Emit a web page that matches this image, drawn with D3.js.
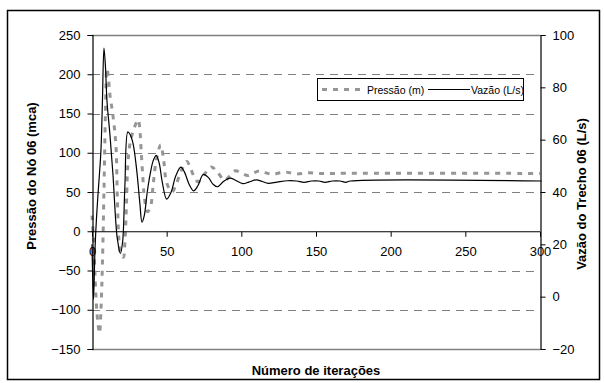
<!DOCTYPE html>
<html>
<head>
<meta charset="utf-8">
<script src="https://cdn.jsdelivr.net/npm/d3@7"></script>
<style>
	body { margin: 0; background: #fff; }
	svg { display: block; font-family: "Liberation Sans", Arial, sans-serif; }
	.tick text { font-size: 13px; fill: #000; }
	.axis-title { font-size: 13px; font-weight: bold; }
	.legend-label { font-size: 10.5px; }
</style>
</head>
<body>
<svg id="chart" width="604" height="383"></svg>
<script>
(function () {
	// DATA
	var xTicks = [0, 50, 100, 150, 200, 250, 300];
	var leftTicks = [-150, -100, -50, 0, 50, 100, 150, 200, 250];
	var rightTicks = [-20, 0, 20, 40, 60, 80, 100];
	var gridValues = [-100, -50, 50, 100, 150, 200];

	var pressaoIter = [0, 1, 2, 3, 4, 5, 6, 7, 8, 9, 10, 11, 12, 14, 16, 17, 18, 19, 21, 22, 23, 24, 25.5, 28, 31, 32, 33, 34, 35, 37, 39, 41, 43, 46, 48, 50, 53.5, 56, 60, 63.5, 66, 69, 71, 75, 80, 84, 89, 92, 96, 100, 104.5, 108, 112.5, 117, 121, 126, 131, 137, 145, 152, 160, 300];
	var pressaoVal = [20, -10, -55, -95, -118, -130, -100, -40, 50, 150, 207, 195, 174, 148, 110, 40, -10, -28, -33, -15, 30, 85, 112, 130, 142, 130, 100, 70, 45, 25, 30, 60, 90, 110, 90, 62, 50, 58, 78, 89, 80, 67, 63, 72, 82, 75, 65, 70, 77, 74, 71, 74, 77, 74, 72.5, 74.5, 75, 73, 74.5, 73.5, 73.7, 73.7];

	var vazaoIter = [0, 1, 2, 3, 4, 5, 6, 7, 8, 9, 10, 12, 14, 16, 17, 19, 20.5, 22, 24, 25.5, 27.5, 30, 32, 33.5, 35, 37, 39, 41, 43, 45, 47, 50, 53, 56, 59.5, 62, 65, 68, 71, 74.5, 78, 81, 84, 88, 92.5, 96, 101, 105, 110, 114, 118, 124, 131, 137, 142, 147, 152, 156, 161, 166, 170, 173, 301];
	var vazaoVal = [20, -1, 18, 30, 39, 47, 56, 75, 95, 88, 75, 62, 47, 28, 22, 16.5, 21, 42, 63, 62, 58.5, 48, 36, 28.5, 31, 40, 47, 52, 54, 51, 44, 37.3, 40, 46, 49.5, 47.5, 43, 40.4, 42.5, 46.7, 45.5, 43, 42, 44, 45.3, 44.5, 43.2, 43.8, 44.6, 44, 43.3, 43.8, 44.3, 44.2, 43.7, 44.2, 44.2, 43.7, 44.2, 44.2, 43.7, 44.2, 44.2];

	var legend = ["Pressão (m)", "Vazão (L/s)"];

	// SCALES
	var svg = d3.select("#chart");
	var x = d3.scaleLinear().domain([0, 300]).range([92, 540]);
	var yL = d3.scaleLinear().domain([-150, 250]).range([349, 35]);
	var yR = d3.scaleLinear().domain([-20, 100]).range([349, 35]);

	// outer frame
	svg.append("rect")
		.attr("x", 7.5).attr("y", 10.5)
		.attr("width", 592).attr("height", 369)
		.attr("fill", "none").attr("stroke", "#000").attr("stroke-width", 1.5);

	// plot area border top / bottom
	svg.selectAll("line.border")
		.data([250, -150]).enter().append("line")
		.attr("class", "border")
		.attr("x1", x(0)).attr("x2", x(300))
		.attr("y1", function (d) { return yL(d) + 0.5 })
		.attr("y2", function (d) { return yL(d) + 0.5 })
		.attr("stroke", "#808080").attr("stroke-width", 1.5);

	// gridlines
	svg.selectAll("line.grid")
		.data(gridValues).enter().append("line")
		.attr("class", "grid")
		.attr("x1", x(0)).attr("x2", x(300))
		.attr("y1", function (d) { return Math.round(yL(d)) + 0.5 })
		.attr("y2", function (d) { return Math.round(yL(d)) + 0.5 })
		.attr("stroke", "#808080").attr("stroke-width", 1)
		.attr("stroke-dasharray", "8,6");

	// LINES
	var pressaoLine = d3.line()
		.x(function (d, i) { return x(pressaoIter[i]) })
		.y(function (d) { return yL(d) })
		.curve(d3.curveCatmullRom.alpha(0.5));
	var vazaoLine = d3.line()
		.x(function (d, i) { return x(vazaoIter[i]) })
		.y(function (d) { return yR(d) })
		.curve(d3.curveCatmullRom.alpha(0.5));

	svg.append("path")
		.attr("d", pressaoLine(pressaoVal))
		.attr("fill", "none").attr("stroke", "#969696")
		.attr("stroke-width", 3).attr("stroke-dasharray", "5,6");
	svg.append("path")
		.attr("d", vazaoLine(vazaoVal))
		.attr("fill", "none").attr("stroke", "#000")
		.attr("stroke-width", 1.2);

	// AXES
	var gx = svg.append("g")
		.attr("transform", "translate(0," + (yL(0) + 0.5) + ")")
		.call(d3.axisBottom(x).tickValues(xTicks).tickSize(5).tickPadding(10));
	var gl = svg.append("g")
		.attr("transform", "translate(" + (x(0) + 0.5) + ",0)")
		.call(d3.axisLeft(yL).tickValues(leftTicks).tickSize(5).tickPadding(7));
	var gr = svg.append("g")
		.attr("transform", "translate(" + (x(300) + 0.5) + ",0)")
		.call(d3.axisRight(yR).tickValues(rightTicks).tickSize(5).tickPadding(7));
	[gx, gl, gr].forEach(function (g) {
		g.selectAll(".domain").attr("stroke", "#000").attr("stroke-width", 1.2);
		g.selectAll(".tick line").attr("stroke", "#000");
		g.attr("font-size", null).attr("font-family", null);
	});
	gx.selectAll(".domain").attr("d", "M" + (x(0) - 0.5) + ",0H" + x(300));

	// AXIS TITLES
	svg.append("text").attr("class", "axis-title")
		.attr("transform", "translate(36,176) rotate(-90)")
		.attr("text-anchor", "middle").text("Pressão do Nó 06 (mca)");
	svg.append("text").attr("class", "axis-title")
		.attr("transform", "translate(586,194) rotate(-90)")
		.attr("text-anchor", "middle").text("Vazão do Trecho 06 (L/s)");
	svg.append("text").attr("class", "axis-title")
		.attr("x", 316).attr("y", 375)
		.attr("text-anchor", "middle").text("Número de iterações");

	// LEGEND
	var lg = svg.append("g").attr("class", "legend");
	lg.append("rect")
		.attr("x", 317.5).attr("y", 78.5).attr("width", 206).attr("height", 22)
		.attr("fill", "#fff").attr("stroke", "#000").attr("stroke-width", 1);
	lg.append("line")
		.attr("x1", 322).attr("x2", 366).attr("y1", 89.5).attr("y2", 89.5)
		.attr("stroke", "#969696").attr("stroke-width", 3).attr("stroke-dasharray", "5,6");
	lg.append("line")
		.attr("x1", 428).attr("x2", 470).attr("y1", 89.5).attr("y2", 89.5)
		.attr("stroke", "#000").attr("stroke-width", 1.2);
	lg.selectAll("text.legend-label")
		.data(legend).enter().append("text")
		.attr("class", "legend-label")
		.attr("x", function (d, i) { return i === 0 ? 367 : 471 })
		.attr("y", 93.5)
		.text(function (d) { return d });
})();
</script>
</body>
</html>
